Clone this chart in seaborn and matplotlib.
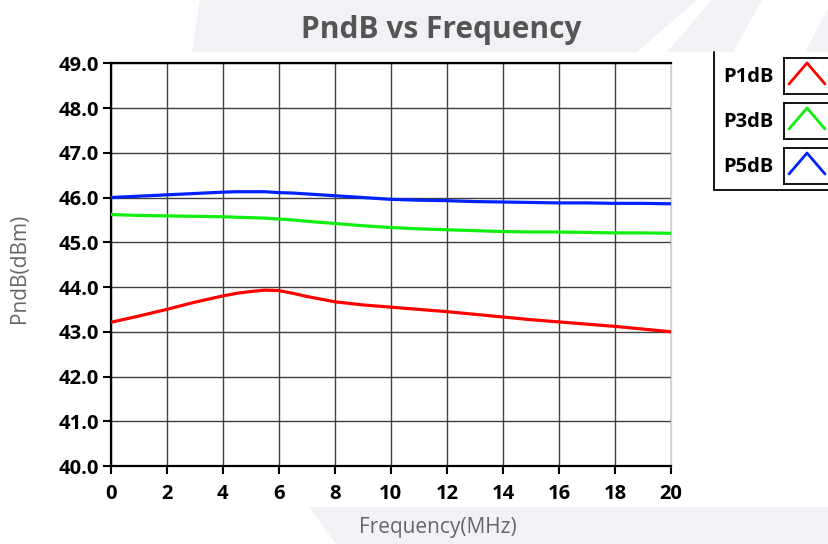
import matplotlib
matplotlib.use("Agg")
import matplotlib.pyplot as plt
from matplotlib.patches import Polygon
import numpy as np
import pandas as pd
import seaborn as sns

# data
freq = [0, 1, 2, 3, 4, 4.5, 5, 5.5, 6, 6.5, 7, 8, 9, 10, 11, 12, 13, 14, 15, 16, 17, 18, 19, 20]
p1db = [43.21, 43.35, 43.50, 43.66, 43.80, 43.86, 43.90, 43.93, 43.92, 43.86, 43.79, 43.67,
        43.60, 43.55, 43.50, 43.45, 43.39, 43.33, 43.27, 43.22, 43.17, 43.12, 43.06, 43.00]
p3db = [45.62, 45.60, 45.59, 45.58, 45.57, 45.56, 45.55, 45.54, 45.52, 45.50, 45.47, 45.42,
        45.37, 45.33, 45.30, 45.28, 45.26, 45.24, 45.23, 45.23, 45.22, 45.21, 45.21, 45.20]
p5db = [46.00, 46.03, 46.06, 46.09, 46.12, 46.13, 46.13, 46.13, 46.11, 46.10, 46.08, 46.04,
        46.00, 45.96, 45.94, 45.93, 45.91, 45.90, 45.89, 45.88, 45.88, 45.87, 45.87, 45.86]
series_names = ["P1dB", "P3dB", "P5dB"]
series_colors = ["#ff0000", "#11ee11", "#0022ff"]
x_ticks = [0, 2, 4, 6, 8, 10, 12, 14, 16, 18, 20]
y_ticks = [40, 41, 42, 43, 44, 45, 46, 47, 48, 49]

df = pd.DataFrame({
    "freq": freq * 3,
    "value": p1db + p3db + p5db,
    "series": np.repeat(series_names, len(freq)),
})

sns.set_style("white")
plt.rcParams["font.family"] = ["Open Sans", "DejaVu Sans"]

W, H = 829, 544
fig = plt.figure(figsize=(W / 100, H / 100), dpi=100)


def px(x, y):
    return (x / W, 1 - y / H)


# faint background decoration
bg = "#f1f2f6"
for poly in [
    [(200, 0), (697, 0), (637, 52), (192, 52)],
    [(712, 0), (762, 0), (733, 52), (667, 52)],
    [(829, 7), (829, 52), (805, 52)],
    [(309, 507), (829, 507), (829, 544), (336, 544)],
]:
    fig.patches.append(Polygon([px(*p) for p in poly], closed=True,
                               transform=fig.transFigure, facecolor=bg,
                               edgecolor="none", zorder=0))

left, right, top, bottom = 110.6, 671, 63.3, 466
ax = fig.add_axes([left / W, 1 - bottom / H, (right - left) / W, (bottom - top) / H])
ax.set_facecolor("none")

sns.lineplot(data=df, x="freq", y="value", hue="series",
             palette=dict(zip(series_names, series_colors)),
             linewidth=2.3, legend=False, ax=ax, zorder=3)

ax.set_xlim(0, 20)
ax.set_ylim(40, 49)
ax.set_xticks(x_ticks)
ax.set_yticks(y_ticks)
ax.set_xticklabels([str(t) for t in x_ticks])
ax.set_yticklabels([f"{t:.1f}" for t in y_ticks])
ax.grid(True, color="#404040", linewidth=1.0)
ax.set_axisbelow(True)
ax.set_xlabel("")
ax.set_ylabel("")

for s in ["left", "bottom", "top"]:
    ax.spines[s].set_color("black")
    ax.spines[s].set_linewidth(1.6)
ax.spines["right"].set_color("#d0d0d0")
ax.spines["right"].set_linewidth(1.0)

ax.tick_params(axis="x", length=6, width=1.5, pad=7, labelsize=14.5, colors="black")
ax.tick_params(axis="y", length=6, width=1.5, pad=2.5, labelsize=14.5, colors="black")
ax.tick_params(bottom=True, left=True)
for lab in ax.get_xticklabels() + ax.get_yticklabels():
    lab.set_fontweight("bold")

fig.text(*px(441, 30), "PndB vs Frequency", ha="center", va="center",
         fontsize=21.5, fontweight="bold", color="#555555")
fig.text(*px(438, 528), "Frequency(MHz)", ha="center", va="center",
         fontsize=15, color="#666666")
fig.text(*px(20, 268), "PndB(dBm)", ha="center", va="center", rotation=90,
         fontsize=15, color="#666666")

# legend, cut off by the right edge of the picture
fig.lines.append(plt.Line2D([714 / W, 714 / W], [1 - 52 / H, 1 - 190 / H],
                            transform=fig.transFigure, color="black", linewidth=1.3))
fig.lines.append(plt.Line2D([714 / W, 1.0], [1 - 190 / H, 1 - 190 / H],
                            transform=fig.transFigure, color="black", linewidth=1.3))
box_tops = [58, 103, 148]
for name, color, bt in zip(series_names, series_colors, box_tops):
    fig.text(*px(723, bt + 19), name, ha="left", va="center",
             fontsize=14.5, fontweight="bold", color="black")
    lax = fig.add_axes([784 / W, 1 - (bt + 36) / H, 76 / W, 36 / H])
    lax.plot([5, 23, 41], [10, 31, 10], color=color, linewidth=2.0)
    lax.set_xlim(0, 76)
    lax.set_ylim(0, 36)
    lax.set_xticks([])
    lax.set_yticks([])
    for s in lax.spines.values():
        s.set_color("black")
        s.set_linewidth(1.3)

fig.savefig("out.png", dpi=100)
